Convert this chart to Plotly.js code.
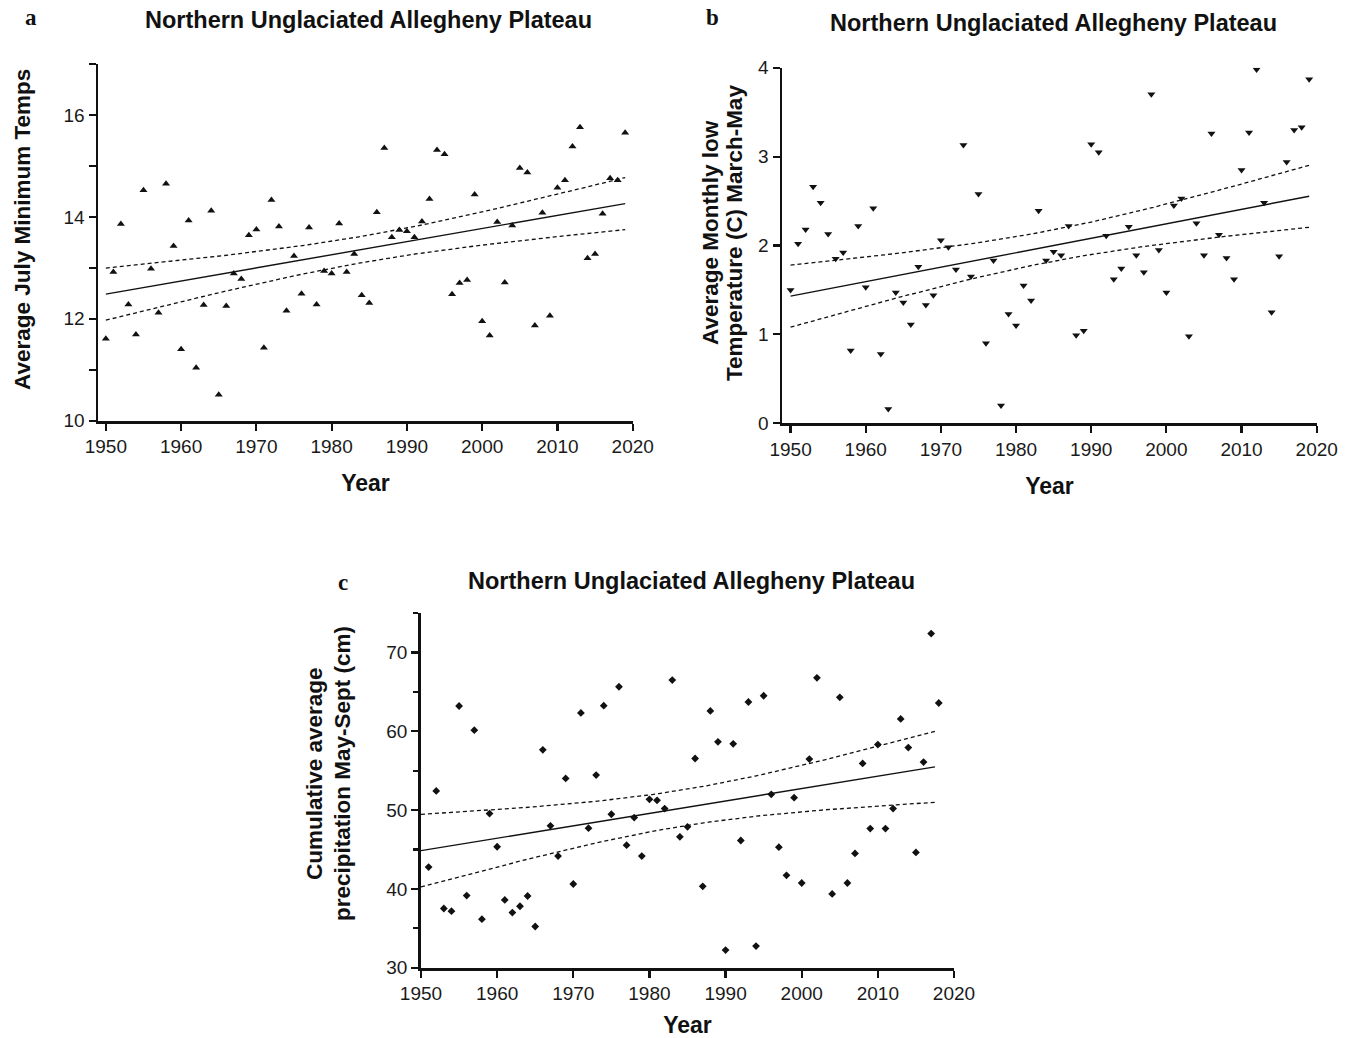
<!DOCTYPE html>
<html>
<head>
<meta charset="utf-8">
<script src="https://cdn.plot.ly/plotly-3.0.1.min.js"></script>
<style>
  html, body { margin: 0; padding: 0; background: #fff; }
  #chart { width: 1352px; height: 1038px; }
</style>
</head>
<body>
<div id="chart"></div>
<script>
// ---------------- DATA ----------------
const panelTitle = "Northern Unglaciated Allegheny Plateau";

// Panel a: Average July minimum temperature
const yearsA = [1950,1951,1952,1953,1954,1955,1956,1957,1958,1959,
                1960,1961,1962,1963,1964,1965,1966,1967,1968,1969,
                1970,1971,1972,1973,1974,1975,1976,1977,1978,1979,
                1980,1981,1982,1983,1984,1985,1986,1987,1988,1989,
                1990,1991,1992,1993,1994,1995,1996,1997,1998,1999,
                2000,2001,2002,2003,2004,2005,2006,2007,2008,2009,
                2010,2011,2012,2013,2014,2015,2016,2017,2018,2019];
const julyMinTemp = [11.61,12.92,13.86,12.28,11.69,14.52,12.98,12.12,14.65,13.43,
                     11.40,13.93,11.04,12.27,14.12,10.51,12.25,12.89,12.78,13.64,
                     13.75,11.43,14.33,13.81,12.16,13.23,12.49,13.79,12.28,12.94,
                     12.89,13.87,12.92,13.27,12.46,12.31,14.09,15.35,13.60,13.74,
                     13.72,13.60,13.91,14.35,15.31,15.23,12.48,12.70,12.76,14.44,
                     11.95,11.67,13.90,12.71,13.83,14.96,14.87,11.87,14.08,12.06,
                     14.57,14.72,15.38,15.76,13.19,13.27,14.06,14.76,14.72,15.65];
const fitSpanA = [1950, 2019];

// Panel b: Average monthly low temperature, March-May
const yearsB = [1950,1951,1952,1953,1954,1955,1956,1957,1958,1959,
                1960,1961,1962,1963,1964,1965,1966,1967,1968,1969,
                1970,1971,1972,1973,1974,1975,1976,1977,1978,1979,
                1980,1981,1982,1983,1984,1985,1986,1987,1988,1989,
                1990,1991,1992,1993,1994,1995,1996,1997,1998,1999,
                2000,2001,2002,2003,2004,2005,2006,2007,2008,2009,
                2010,2011,2012,2013,2014,2015,2016,2017,2018,2019];
const springLowTemp = [1.50,2.02,2.18,2.66,2.48,2.13,1.85,1.92,0.82,2.22,
                       1.53,2.42,0.78,0.16,1.47,1.36,1.11,1.76,1.33,1.44,
                       2.06,1.98,1.73,3.13,1.65,2.58,0.90,1.83,0.20,1.23,
                       1.10,1.55,1.38,2.39,1.83,1.93,1.89,2.22,0.99,1.04,
                       3.14,3.05,2.11,1.62,1.74,2.21,1.89,1.70,3.70,1.95,
                       1.47,2.45,2.53,0.98,2.25,1.89,3.26,2.12,1.86,1.62,
                       2.85,3.27,3.98,2.48,1.25,1.88,2.94,3.30,3.33,3.87];
const fitSpanB = [1950, 2019];

// Panel c: Cumulative average precipitation May-Sept (cm)
const yearsC = [1951,1952,1953,1954,1955,1956,1957,1958,1959,1960,
                1961,1962,1963,1964,1965,1966,1967,1968,1969,1970,
                1971,1972,1973,1974,1975,1976,1977,1978,1979,1980,
                1981,1982,1983,1984,1985,1986,1987,1988,1989,1990,
                1991,1992,1993,1994,1995,1996,1997,1998,1999,2000,
                2001,2002,2004,2005,2006,2007,2008,2009,2010,2011,
                2012,2013,2014,2015,2016,2017,2018];
const precipMaySept = [42.77,52.43,37.51,37.17,63.21,39.15,60.14,36.16,49.56,45.35,
                       38.60,37.00,37.80,39.10,35.23,57.65,48.00,44.16,54.02,40.62,
                       62.33,47.70,54.45,63.25,49.47,65.65,45.55,49.05,44.16,51.37,
                       51.24,50.19,66.50,46.61,47.88,56.55,40.33,62.58,58.66,32.24,
                       58.41,46.14,63.72,32.74,64.51,52.00,45.30,41.72,51.58,40.75,
                       56.47,66.79,39.36,64.31,40.75,44.50,55.92,47.66,58.32,47.66,
                       50.19,61.57,57.94,44.63,56.09,72.40,63.59];
const fitSpanC = [1950, 2017.5];

// ---------------- REGRESSION + 95% CI ----------------
function tCrit(df) {
  const z = 1.959964;
  return z + (Math.pow(z,3) + z) / (4*df) + (5*Math.pow(z,5) + 16*Math.pow(z,3) + 3*z) / (96*df*df);
}
function regression(xs, ys, span) {
  const n = xs.length;
  const mx = xs.reduce((a,b)=>a+b,0)/n;
  const my = ys.reduce((a,b)=>a+b,0)/n;
  let sxx = 0, sxy = 0;
  for (let i=0;i<n;i++){ sxx += (xs[i]-mx)**2; sxy += (xs[i]-mx)*(ys[i]-my); }
  const b = sxy/sxx, a = my - b*mx;
  let sse = 0;
  for (let i=0;i<n;i++){ sse += (ys[i]-(a+b*xs[i]))**2; }
  const s = Math.sqrt(sse/(n-2));
  const t = tCrit(n-2);
  const gx=[], fy=[], lo=[], hi=[];
  const steps = 80;
  for (let k=0;k<=steps;k++){
    const x = span[0] + (span[1]-span[0])*k/steps;
    const y = a + b*x;
    const se = s*Math.sqrt(1/n + (x-mx)**2/sxx);
    gx.push(x); fy.push(y); lo.push(y - t*se); hi.push(y + t*se);
  }
  return {gx, fy, lo, hi};
}

// ---------------- TRACES ----------------
const INK = '#111111';
function panelTraces(xs, ys, span, symbol, size, xa, ya) {
  const r = regression(xs, ys, span);
  return [
    {x: xs, y: ys, type:'scatter', mode:'markers', xaxis:xa, yaxis:ya,
     marker:{symbol:symbol, size:size, color:INK, line:{width:0}}, hoverinfo:'x+y'},
    {x: r.gx, y: r.fy, type:'scatter', mode:'lines', xaxis:xa, yaxis:ya,
     line:{color:INK, width:1.4}, hoverinfo:'skip'},
    {x: r.gx, y: r.hi, type:'scatter', mode:'lines', xaxis:xa, yaxis:ya,
     line:{color:INK, width:1.3, dash:'4px,3px'}, hoverinfo:'skip'},
    {x: r.gx, y: r.lo, type:'scatter', mode:'lines', xaxis:xa, yaxis:ya,
     line:{color:INK, width:1.3, dash:'4px,3px'}, hoverinfo:'skip'}
  ];
}

const data = [].concat(
  panelTraces(yearsA, julyMinTemp, fitSpanA, 'triangle-up', 7, 'x', 'y'),
  panelTraces(yearsB, springLowTemp, fitSpanB, 'triangle-down', 7, 'x2', 'y2'),
  panelTraces(yearsC, precipMaySept, fitSpanC, 'diamond', 6, 'x3', 'y3')
);

// ---------------- LAYOUT ----------------
const W = 1352, H = 1038;
const px = v => v / W;
const py = v => 1 - v / H;
const FONT = 'Liberation Sans, Arial, Helvetica, sans-serif';
const tickFont = {family: FONT, size: 19, color: '#1a1a1a'};
const yearTitle = (standoff) => ({text:'Year', font:{family:FONT, size:23, color:INK, weight:700}, standoff: standoff});

function xAxis(domain, range, anchor) {
  return {
    domain: domain, range: range, anchor: anchor,
    tick0: 1950, dtick: 10, ticks: 'outside', ticklen: 7, tickwidth: 2.2, tickcolor: INK,
    showline: true, linewidth: 2.8, linecolor: INK, mirror: false,
    showgrid: false, zeroline: false, tickfont: tickFont, fixedrange: true,
    title: yearTitle(19)
  };
}
function yAxis(domain, range, anchor, tick0, dtick, minor) {
  const ax = {
    domain: domain, range: range, anchor: anchor,
    tick0: tick0, dtick: dtick, ticks: 'outside', ticklen: 7, tickwidth: 2.2, tickcolor: INK,
    showline: true, linewidth: 2.8, linecolor: INK, mirror: false,
    showgrid: false, zeroline: false, tickfont: tickFont, fixedrange: true
  };
  if (minor) ax.minor = minor;
  return ax;
}

const titleFont = {family:FONT, size:23.5, color:INK, weight:700};
const yTitleFont = {family:FONT, size:22.5, color:INK, weight:700};
const letterFont = {family:'Liberation Serif, Times New Roman, serif', size:23, color:INK, weight:700};

const layout = {
  width: W, height: H,
  margin: {l:0, r:0, t:0, b:0, pad:0},
  paper_bgcolor: '#ffffff', plot_bgcolor: '#ffffff',
  showlegend: false,
  font: {family: FONT, color: INK},
  xaxis:  xAxis([px(98.3), px(632.7)], [1949, 2020], 'y'),
  yaxis:  yAxis([py(420.7), py(64)], [10, 17], 'x', 10, 2,
                {dtick: 1, tick0: 10, ticks: 'outside', ticklen: 7, tickwidth: 2.2, tickcolor: INK, showgrid:false}),
  xaxis2: xAxis([px(782.3), px(1316.7)], [1948.9, 2020], 'y2'),
  yaxis2: yAxis([py(423.3), py(67.7)], [0, 4], 'x2', 0, 1, null),
  xaxis3: xAxis([px(421), px(954)], [1950, 2020], 'y3'),
  yaxis3: yAxis([py(967.7), py(612.7)], [30, 75.05], 'x3', 30, 10,
                {dtick: 5, tick0: 30, ticks: 'outside', ticklen: 5, tickwidth: 2.2, tickcolor: INK, showgrid:false}),
  annotations: [
    // panel titles
    {text: panelTitle, xref:'paper', yref:'paper', x: px(369), y: py(20), xanchor:'center', yanchor:'middle',
     showarrow:false, font: titleFont},
    {text: panelTitle, xref:'paper', yref:'paper', x: px(1053), y: py(23), xanchor:'center', yanchor:'middle',
     showarrow:false, font: titleFont},
    {text: panelTitle, xref:'paper', yref:'paper', x: px(691), y: py(581), xanchor:'center', yanchor:'middle',
     showarrow:false, font: titleFont},
    // panel letters
    {text: 'a', xref:'paper', yref:'paper', x: px(31), y: py(17), xanchor:'center', yanchor:'middle',
     showarrow:false, font: letterFont},
    {text: 'b', xref:'paper', yref:'paper', x: px(713), y: py(17), xanchor:'center', yanchor:'middle',
     showarrow:false, font: letterFont},
    {text: 'c', xref:'paper', yref:'paper', x: px(343), y: py(582), xanchor:'center', yanchor:'middle',
     showarrow:false, font: letterFont},
    // y-axis titles
    {text: 'Average July Minimum Temps', xref:'paper', yref:'paper', x: px(22), y: py(230), textangle:-90,
     xanchor:'center', yanchor:'middle', showarrow:false, font: yTitleFont},
    {text: 'Average Monthly low', xref:'paper', yref:'paper', x: px(711), y: py(233), textangle:-90,
     xanchor:'center', yanchor:'middle', showarrow:false, font: yTitleFont},
    {text: 'Temperature (C) March-May', xref:'paper', yref:'paper', x: px(735), y: py(233), textangle:-90,
     xanchor:'center', yanchor:'middle', showarrow:false, font: yTitleFont},
    {text: 'Cumulative average', xref:'paper', yref:'paper', x: px(314), y: py(774), textangle:-90,
     xanchor:'center', yanchor:'middle', showarrow:false, font: yTitleFont},
    {text: 'precipitation May-Sept (cm)', xref:'paper', yref:'paper', x: px(342), y: py(774), textangle:-90,
     xanchor:'center', yanchor:'middle', showarrow:false, font: yTitleFont}
  ]
};

Plotly.newPlot('chart', data, layout, {displayModeBar:false, staticPlot:true});
</script>
</body>
</html>
